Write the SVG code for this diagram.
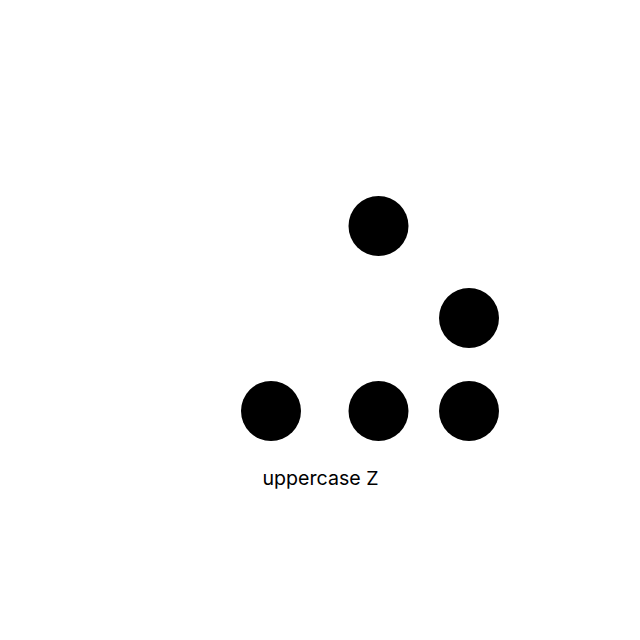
<svg xmlns="http://www.w3.org/2000/svg" width="640" height="640" viewBox="0 0 640 640">
<style>
.dot{fill:#000}
.lbl{font-family:Inter,"Open Sans",sans-serif;font-size:19px;fill:#000}
</style>
<rect width="640" height="640" fill="#fff"/>
<g id="dot1"><circle class="dot" cx="378.5" cy="226" r="30"/></g>
<g id="dot2"><circle class="dot" cx="469" cy="318" r="30"/></g>
<g id="dot3"><circle class="dot" cx="271" cy="411" r="30"/></g>
<g id="dot4"><circle class="dot" cx="378.5" cy="411" r="30"/></g>
<g id="dot5"><circle class="dot" cx="469" cy="411" r="30"/></g>
<g id="connectors"></g>
<g id="label"><text class="lbl" x="262.5" y="484.5" textLength="116" lengthAdjust="spacingAndGlyphs">uppercase Z</text></g>
</svg>
